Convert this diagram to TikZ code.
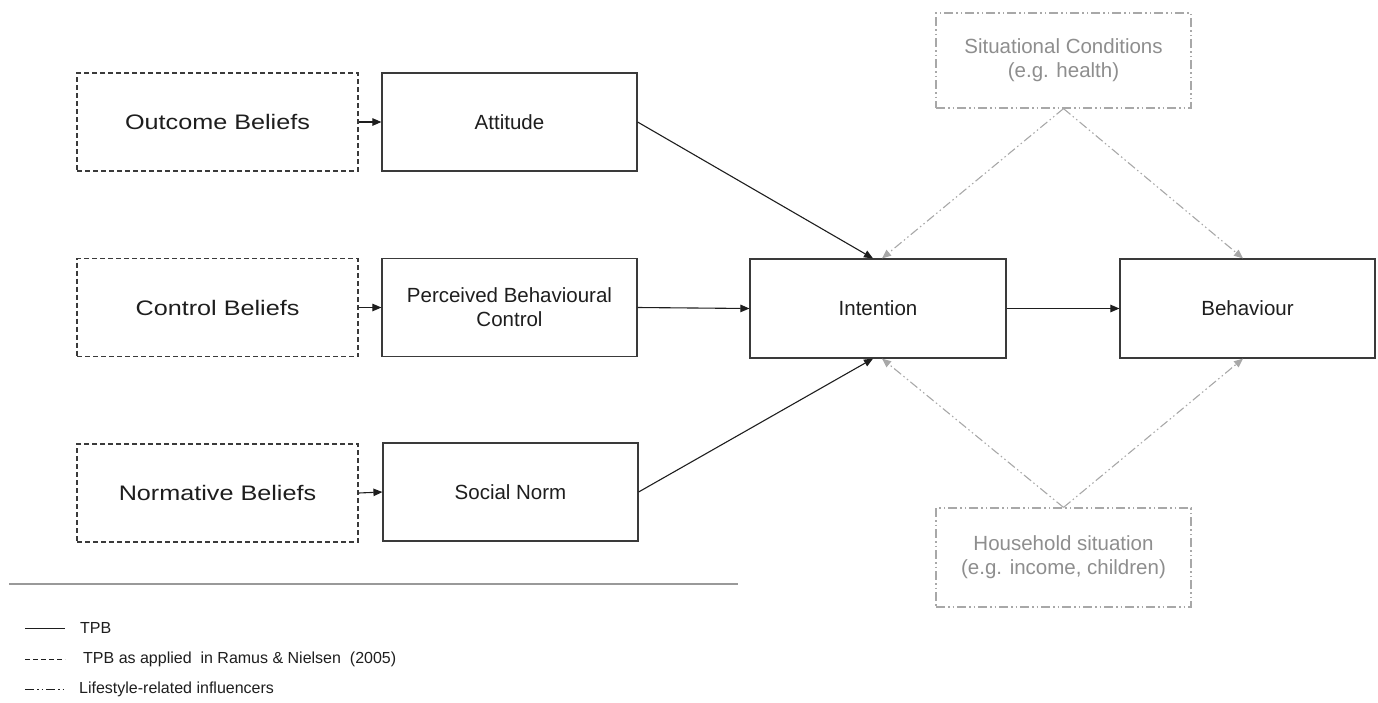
\documentclass[tikz,border=0pt]{standalone}
\usepackage{fontspec}
\setmainfont{Liberation Sans}
\newfontfamily\beliefsfont[FakeStretch=1.2]{Liberation Sans}
\usetikzlibrary{arrows.meta,calc}
\definecolor{boxline}{HTML}{3A3A3A}
\definecolor{infl}{HTML}{A8A8A8}
\definecolor{infltext}{HTML}{8E8E8E}
\definecolor{txt}{HTML}{1E1E1E}
\tikzset{
  box/.style={draw=boxline, line width=1.2pt, fill=white, inner sep=0pt,
    minimum width=255pt, minimum height=98pt, align=center,
    font=\fontsize{20.5}{24}\selectfont, text=txt},
  beliefbox/.style={box, dashed, dash pattern=on 5pt off 3pt, minimum width=281pt,
    font=\beliefsfont\fontsize{21}{25}\selectfont},
  inflbox/.style={box, draw=infl, text=infltext,
    dash pattern=on 9pt off 3pt on 1.5pt off 3pt on 1.5pt off 3pt},
  tpbarrow/.style={draw=txt, line width=1.1pt, -{Triangle[length=9pt,width=7.5pt]}},
  inflarrow/.style={draw=infl, line width=1.1pt,
    dash pattern=on 9pt off 3pt on 1.5pt off 3pt on 1.5pt off 3pt,
    -{Triangle[length=9pt,width=7.5pt]}},
  legtext/.style={anchor=west, inner sep=0pt, font=\fontsize{16}{19}\selectfont, text=txt},
}
\begin{document}
\begin{tikzpicture}[x=1pt,y=-1pt]
\useasboundingbox (0,0) rectangle (1378,702);

% belief boxes
\node[beliefbox] (ob) at (217.5,122) {Outcome Beliefs};
\node[beliefbox] (cb) at (217.5,307.5) {Control Beliefs};
\node[beliefbox] (nb) at (217.5,493) {Normative Beliefs};

% TPB constructs
\node[box] (att) at (509.5,122) {Attitude};
\node[box] (pbc) at (509.5,307.5) {Perceived Behavioural\\Control};
\node[box] (sn) at (510.5,492) {Social Norm};
\node[box, minimum width=256pt, minimum height=99pt] (int) at (878,308.5) {Intention};
\node[box, minimum height=99pt] (beh) at (1247.5,308.5) {Behaviour};

% influencers
\node[inflbox, minimum height=95pt] (sit) at (1063.5,60.5) {Situational Conditions\\(e.g. health)};
\node[inflbox, minimum height=99pt] (hh) at (1063.5,557.5) {Household situation\\(e.g. income, children)};

% arrows
\draw[tpbarrow] (ob.east) -- (att.west);
\draw[tpbarrow] (cb.east) -- (pbc.west);
\draw[tpbarrow] (nb.east) -- (sn.west);
\draw[tpbarrow] (att.east) -- ([xshift=-5pt]int.north);
\draw[tpbarrow] (pbc.east) -- (int.west);
\draw[tpbarrow] (sn.east) -- ([xshift=-5pt]int.south);
\draw[tpbarrow] (int.east) -- (beh.west);

\draw[inflarrow] (sit.south) -- ([xshift=4pt]int.north);
\draw[inflarrow] (sit.south) -- ([xshift=-4.5pt]beh.north);
\draw[inflarrow] (hh.north) -- ([xshift=4pt]int.south);
\draw[inflarrow] (hh.north) -- ([xshift=-4.5pt]beh.south);

% separator
\coordinate (sepL) at (9,584);
\coordinate (sepR) at (738,584);
\draw[draw=gray!80, line width=1.6pt] (sepL) -- (sepR);

% legend
\coordinate (l1a) at (25,628); \coordinate (l1b) at (65,628);
\coordinate (l2a) at (25,659); \coordinate (l2b) at (65,659);
\coordinate (l3a) at (25,689); \coordinate (l3b) at (65,689);
\draw[draw=txt, line width=1pt] (l1a) -- (l1b);
\draw[draw=txt, line width=0.9pt, dash pattern=on 5pt off 3pt] (l2a) -- (l2b);
\draw[draw=txt, line width=0.9pt, dash pattern=on 9pt off 3pt on 1.5pt off 3pt on 1.5pt off 3pt] (l3a) -- (l3b);
\node[legtext] (t1) at (80,628) {TPB};
\node[legtext] (t2) at (83,659) {TPB as applied\ \ in Ramus \& Nielsen\ \ (2005)};
\node[legtext] (t3) at (79,689) {Lifestyle-related influencers};
\end{tikzpicture}
\end{document}
